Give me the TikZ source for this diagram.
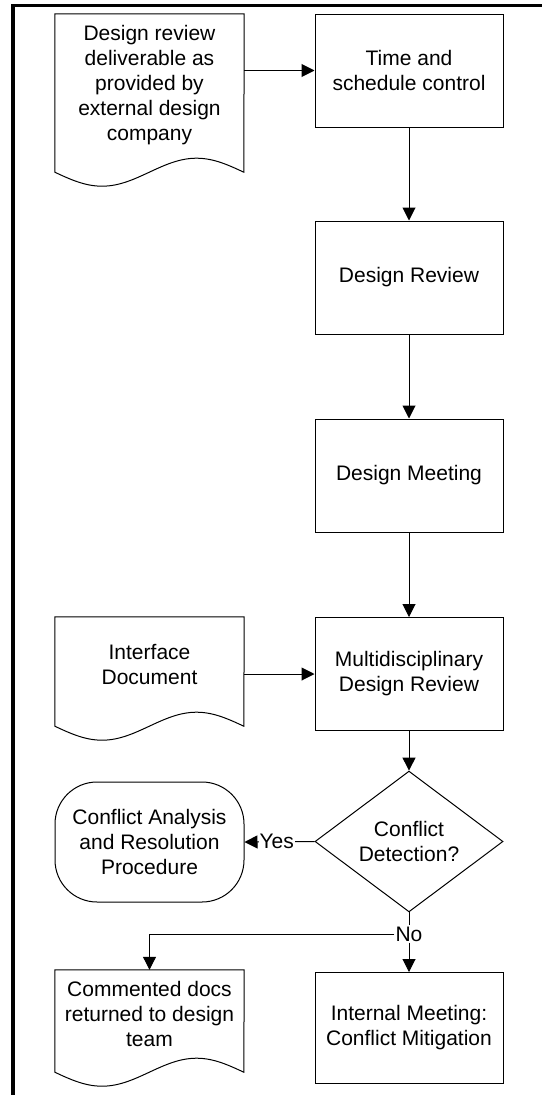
\documentclass[tikz,border=0pt]{standalone}
\usepackage{fontspec}
\setmainfont{Liberation Sans}
\usetikzlibrary{arrows.meta,shapes.geometric}

% outline of a document shape with a wavy bottom
\newcommand{\docoutline}[1]{%
\draw[shapeline] (#1.north east) -- (#1.north west) -- ([yshift=-15pt]#1.south west)
  sin ++(47.25,14) cos ++(47.25,-14) sin ++(47.25,-14) cos ++(47.25,14) -- cycle;}

\begin{document}
\begin{tikzpicture}[x=1pt,y=-1pt,
  every node/.style={font=\fontsize{21}{25}\selectfont, align=center},
  shapeline/.style={line width=1pt},
  procbox/.style={draw, shapeline, minimum width=188pt, minimum height=113pt, inner sep=0pt},
  docbox/.style={minimum width=189pt, inner sep=0pt},
  arr/.style={line width=1pt, -{Triangle[length=13pt,width=13pt]}}]
\useasboundingbox (0,0) rectangle (542,1095);
% frame
\draw[line width=3.2pt] (13,1095) -- (13,5.5) -- (542,5.5);

\node[docbox, minimum height=143pt] (deliv) at (149.5,85.5) {Design review\\deliverable as\\provided by\\external design\\company};
\docoutline{deliv}
\node[procbox] (sched) at (409,70.5) {Time and\\schedule control};
\node[procbox] (review) at (409,277.5) {Design Review};
\node[procbox] (meet) at (409,475.5) {Design Meeting};
\node[docbox, minimum height=94pt] (iface) at (149.5,664) {Interface\\Document};
\docoutline{iface}
\node[procbox] (mdr) at (409,674) {Multidisciplinary\\Design Review};
\node[diamond, draw, shapeline, minimum width=188pt, minimum height=111pt, inner sep=0pt] (detect) at (409,841.5) {Conflict\\Detection?};
\node[draw, shapeline, rounded corners=42pt, minimum width=189pt, minimum height=120pt, inner sep=0pt] (resol) at (149.5,842) {Conflict Analysis\\and Resolution\\Procedure};
\node[inner sep=1pt] (no) at (409,934) {No};
\node[docbox, minimum height=87pt] (cdocs) at (149.5,1013.5) {Commented docs\\returned to design\\team};
\docoutline{cdocs}
\node[procbox, minimum height=111pt] (intm) at (409,1028) {Internal Meeting:\\Conflict Mitigation};

\draw[arr] (sched.west -| deliv.east) -- (sched.west);
\draw[arr] (sched.south) -- (review.north);
\draw[arr] (review.south) -- (meet.north);
\draw[arr] (meet.south) -- (mdr.north);
\draw[arr] (mdr.west -| iface.east) -- (mdr.west);
\draw[arr] (mdr.south) -- (detect.north);
\draw[arr] (detect.west) -- (resol.east) node[pos=0.54, fill=white, inner sep=1pt] (yes) {Yes};
\draw[shapeline] (detect.south) -- (no.north);
\draw[arr] (no.south) -- (intm.north);
\draw[arr] (no.west) -| (cdocs.north);
\end{tikzpicture}
\end{document}
